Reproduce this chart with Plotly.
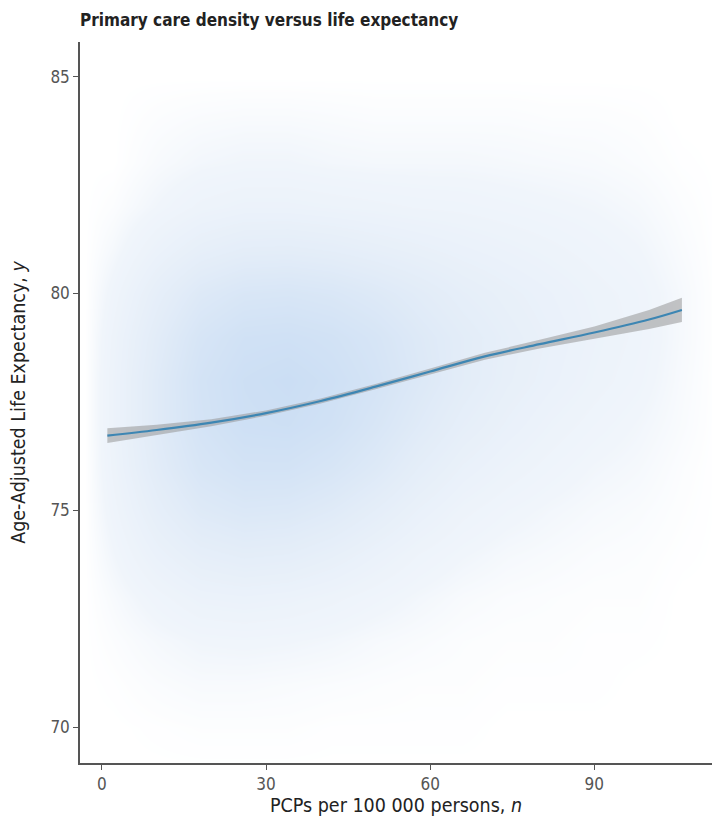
import plotly.graph_objects as go

# density of the point cloud (relative); outer row/columns are empty
grid_x = [-3, 2, 10, 18, 26, 34, 42, 50, 58, 66, 74, 82, 90, 98, 106, 113]
grid_y = [69, 70, 71, 72, 73, 74, 75, 76, 77, 78, 79, 80, 81, 82, 83, 84, 85]
density = [
    [0, 0, 0, 0, 0, 0, 0, 0, 0, 0, 0, 0, 0, 0, 0, 0],
    [0, 0, 0.1, 0.2, 0.2, 0.2, 0.1, 0.1, 0.1, 0.1, 0, 0, 0, 0, 0, 0],
    [0, 0.1, 0.4, 0.6, 0.6, 0.5, 0.4, 0.3, 0.2, 0.2, 0.1, 0.1, 0.1, 0, 0, 0],
    [0, 0.3, 0.8, 1.2, 1.3, 1.2, 1, 0.7, 0.5, 0.3, 0.2, 0.2, 0.1, 0.1, 0, 0],
    [0, 0.6, 1.6, 2.4, 2.6, 2.4, 2, 1.5, 1, 0.6, 0.4, 0.3, 0.2, 0.2, 0, 0],
    [0, 1.1, 2.8, 4, 4.5, 4.3, 3.6, 2.7, 1.8, 1.2, 0.8, 0.6, 0.4, 0.3, 0.1, 0],
    [0, 1.6, 4, 5.8, 6.5, 6.3, 5.5, 4.3, 3, 2, 1.4, 1, 0.7, 0.5, 0.2, 0],
    [0, 2, 5, 7.2, 8.2, 8.2, 7.3, 6, 4.3, 3, 2.2, 1.6, 1.1, 0.8, 0.3, 0],
    [0, 2.2, 5.5, 8, 9.3, 9.5, 8.7, 7.2, 5.5, 4, 3, 2.2, 1.6, 1.1, 0.5, 0],
    [0, 2.2, 5.5, 8.2, 9.5, 10, 9.2, 8, 6.3, 4.8, 3.6, 2.8, 2.1, 1.5, 0.6, 0],
    [0, 2, 5, 7.5, 8.8, 9, 8.5, 7.5, 6, 4.8, 3.8, 3, 2.3, 1.7, 0.7, 0],
    [0, 1.5, 4, 6, 7, 7.2, 6.8, 6, 5, 4, 3.3, 2.7, 2.1, 1.6, 0.7, 0],
    [0, 0.8, 2.5, 3.8, 4.5, 4.6, 4.3, 3.8, 3.3, 2.8, 2.4, 2.0, 1.6, 1.2, 0.5, 0],
    [0, 0.3, 1.2, 2, 2.4, 2.4, 2.2, 2, 1.8, 1.7, 1.5, 1.3, 1.1, 0.8, 0.3, 0],
    [0, 0, 0.6, 1, 1.2, 1.2, 1, 0.9, 0.9, 0.9, 0.8, 0.7, 0.6, 0.4, 0.1, 0],
    [0, 0, 0.3, 0.5, 0.6, 0.6, 0.5, 0.4, 0.4, 0.4, 0.4, 0.3, 0.3, 0.2, 0, 0],
    [0, 0, 0, 0, 0, 0, 0, 0, 0, 0, 0, 0, 0, 0, 0, 0],
]

# smoothed trend with confidence band
fit_x = [1, 10, 20, 30, 40, 50, 60, 70, 80, 90, 100, 106]
fit_y = [76.72, 76.85, 77.02, 77.24, 77.52, 77.85, 78.2, 78.55, 78.83, 79.1, 79.4, 79.62]
fit_lo = [76.55, 76.73, 76.94, 77.18, 77.46, 77.79, 78.13, 78.47, 78.73, 78.96, 79.18, 79.34]
fit_hi = [76.89, 76.97, 77.10, 77.30, 77.58, 77.91, 78.27, 78.63, 78.93, 79.24, 79.62, 79.90]

x_ticks = [0, 30, 60, 90]
y_ticks = [70, 75, 80, 85]

fig = go.Figure()
fig.add_trace(go.Heatmap(
    x=grid_x, y=grid_y, z=density, zsmooth="best", showscale=False,
    colorscale=[[0, "rgb(255,255,255)"], [0.12, "rgb(240,245,251)"], [0.5, "rgb(226,236,248)"],
                [1, "rgb(203,222,244)"]],
    zmin=0, zmax=10, hoverinfo="skip"))
fig.add_trace(go.Scatter(x=fit_x, y=fit_hi, mode="lines", line=dict(width=0),
                         showlegend=False, hoverinfo="skip"))
fig.add_trace(go.Scatter(x=fit_x, y=fit_lo, mode="lines", line=dict(width=0),
                         fill="tonexty", fillcolor="rgba(150,150,150,0.55)",
                         showlegend=False, hoverinfo="skip"))
fig.add_trace(go.Scatter(x=fit_x, y=fit_y, mode="lines", line=dict(color="#3d86b3", width=2.2, shape="spline"),
                         showlegend=False))

font_family = "DejaVu Sans Condensed, DejaVu Sans, Roboto"
fig.update_layout(
    width=720, height=819,
    margin=dict(l=80, r=8, t=42, b=56),
    plot_bgcolor="white", paper_bgcolor="white",
    font=dict(family=font_family, color="#333"),
    title=dict(text="<b>Primary care density versus life expectancy</b>", x=80/720, xanchor="left",
               y=1 - 20/819, yanchor="middle", font=dict(size=17, color="#222", family=font_family)),
    xaxis=dict(range=[-4, 111.5], tickvals=x_ticks, showgrid=False, zeroline=False,
               showline=True, linecolor="#555", linewidth=1.5, ticks="outside", ticklen=5,
               tickcolor="#555", tickfont=dict(size=17, color="#555"), automargin=False,
               title=dict(text="PCPs per 100 000 persons, <i>n</i>", font=dict(size=19.5, color="#222"), standoff=0)),
    yaxis=dict(range=[69.17, 85.8], tickvals=y_ticks, showgrid=False, zeroline=False,
               showline=True, linecolor="#555", linewidth=1.5, ticks="outside", ticklen=5,
               tickcolor="#555", tickfont=dict(size=17, color="#555"), automargin=False,
               title=dict(text="Age-Adjusted Life Expectancy, <i>y</i>", font=dict(size=19.5, color="#222"), standoff=20)),
)
fig.write_html("out.html", post_script="document.body.style.margin='0px';",
               config={"displayModeBar": False})
